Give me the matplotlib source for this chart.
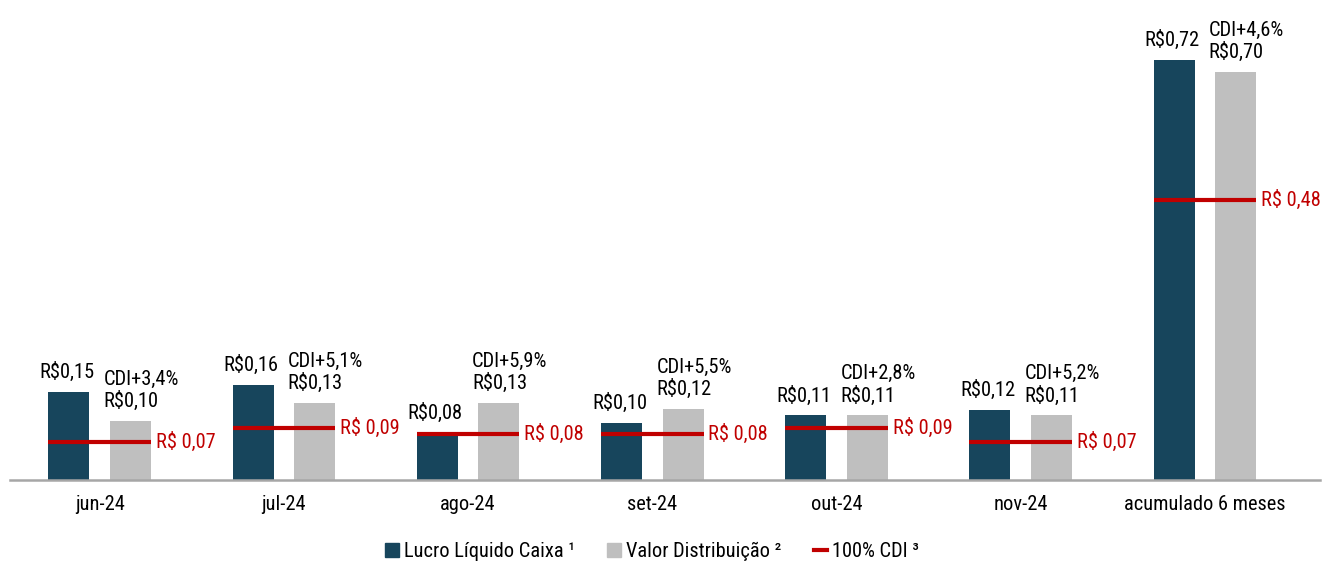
import matplotlib.pyplot as plt
import numpy as np
from matplotlib.lines import Line2D
from matplotlib.patches import Patch

plt.rcParams["font.family"] = ["Roboto Condensed", "Liberation Sans", "DejaVu Sans"]

meses = ["jun-24", "jul-24", "ago-24", "set-24", "out-24", "nov-24", "acumulado 6 meses"]
lucro_caixa = [0.151, 0.163, 0.082, 0.098, 0.111, 0.120, 0.72]
distribuicao = [0.101, 0.132, 0.132, 0.122, 0.111, 0.111, 0.70]
spread_cdi = [3.4, 5.1, 5.9, 5.5, 2.8, 5.2, 4.6]
cdi_100 = [0.066, 0.089, 0.079, 0.079, 0.089, 0.066, 0.48]

COR_LUCRO = "#17455C"
COR_DIST = "#BFBFBF"
COR_CDI = "#C00000"


def brl(v):
    return f"{v:.2f}".replace(".", ",")


fig = plt.figure(figsize=(13.23, 5.61), dpi=100)
ax = fig.add_axes([10 / 1323, 81 / 561, 1310 / 1323, 480 / 561])

x = np.arange(len(meses))
w = 0.223
off = 0.167

ax.bar(x - off, lucro_caixa, w, color=COR_LUCRO, zorder=2)
ax.bar(x + off, distribuicao, w, color=COR_DIST, zorder=2)
ax.hlines(cdi_100, x - off - w / 2, x + off + w / 2, color=COR_CDI, lw=3, zorder=3)

fs = 14.7
for i in range(len(meses)):
    ax.annotate(f"R${brl(lucro_caixa[i])}", (x[i] - off, lucro_caixa[i]), xytext=(-1.5, 7),
                textcoords="offset points", ha="center", va="bottom", fontsize=fs)
    txt = f"CDI+{spread_cdi[i]:.1f}%".replace(".", ",") + f"\nR${brl(distribuicao[i])}"
    ax.annotate(txt, (x[i] + off - w / 2, distribuicao[i]), xytext=(-4.5, 7),
                textcoords="offset points", ha="left", va="bottom", fontsize=fs,
                linespacing=1.15)
    ax.annotate(f"R$ {brl(cdi_100[i])}", (x[i] + off + w / 2, cdi_100[i]), xytext=(3.5, 0),
                textcoords="offset points", ha="left", va="center", fontsize=fs,
                color=COR_CDI)

ax.set_xlim(-0.487, 6.625)
ax.set_ylim(0, 0.823)
ax.set_xticks(x)
ax.set_xticklabels(meses, fontsize=fs)
ax.tick_params(axis="x", length=0, pad=11)
ax.set_yticks([])
for s in ["top", "right", "left"]:
    ax.spines[s].set_visible(False)
ax.spines["bottom"].set_color("#A6A6A6")
ax.spines["bottom"].set_linewidth(1.8)

handles = [
    Patch(color=COR_LUCRO, label="Lucro Líquido Caixa ¹"),
    Patch(color=COR_DIST, label="Valor Distribuição ²"),
    Line2D([], [], color=COR_CDI, lw=3, label="100% CDI ³"),
]
fig.legend(handles=handles, loc="lower center", bbox_to_anchor=(0.493, -0.033), ncol=3,
           frameon=False, fontsize=fs, handlelength=0.65, handleheight=0.65,
           handletextpad=0.25, columnspacing=1.6)

fig.savefig("out.png", dpi=100)
